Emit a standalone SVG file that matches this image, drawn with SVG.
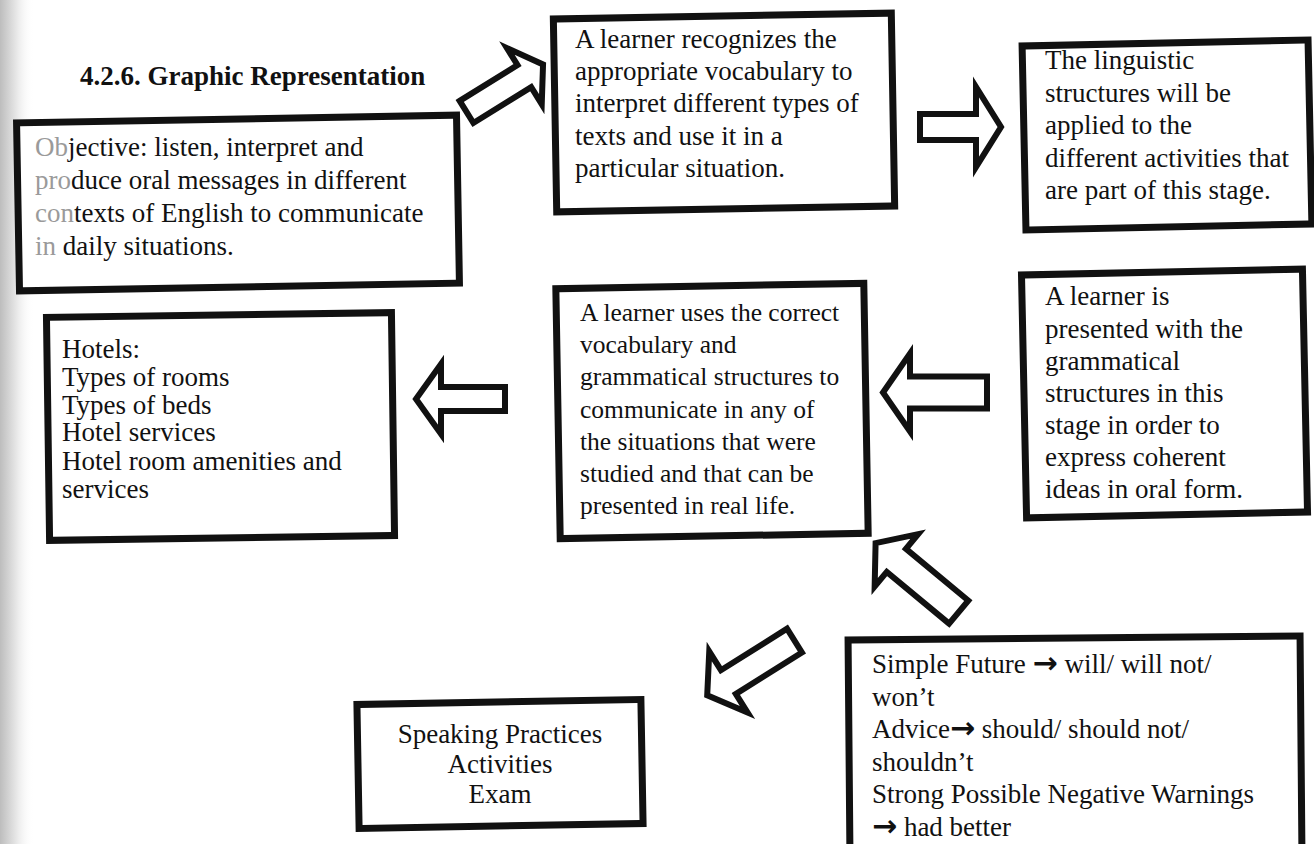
<svg xmlns="http://www.w3.org/2000/svg" width="1314" height="844" viewBox="0 0 1314 844">
  <defs>
    <linearGradient id="shadow" x1="0" y1="0" x2="1" y2="0">
      <stop offset="0" stop-color="#bdbdbd"/>
      <stop offset="0.45" stop-color="#e4e4e4"/>
      <stop offset="1" stop-color="#ffffff" stop-opacity="0"/>
    </linearGradient>
    <style>
      .box { fill: #ffffff; stroke: #111111; stroke-width: 7; }
      .arrow { fill: #ffffff; stroke: #111111; stroke-width: 6; stroke-linejoin: miter; stroke-miterlimit: 10; }
      .t { font-family: "Liberation Serif", "Times New Roman", serif; font-size: 27px; fill: #111111; }
      .tc { font-family: "Liberation Serif", "Times New Roman", serif; font-size: 25.5px; fill: #111111; }
      .title { font-family: "Liberation Serif", "Times New Roman", serif; font-size: 27px; font-weight: bold; fill: #111111; }
      .fade { fill: #9a9a9a; }
      .ar { font-family: "DejaVu Sans", sans-serif; font-size: 30px; font-weight: bold; }
    </style>
  </defs>
  <rect x="0" y="0" width="1314" height="844" fill="#ffffff"/>
  <rect x="0" y="0" width="34" height="844" fill="url(#shadow)"/>

  <text class="title" x="80" y="85">4.2.6. Graphic Representation</text>

  <g id="connectors">
    <polygon class="arrow" transform="translate(464,113.5) rotate(-31.8)" points="3,-13 71,-13 71,-33 93,0 71,33 71,13 3,13"/>
    <polygon class="arrow" transform="translate(917,127)" points="3,-13 59,-13 59,-40 84,0 59,40 59,13 3,13"/>
    <polygon class="arrow" transform="translate(508,399) rotate(180)" points="3,-12 67,-12 67,-35 92,0 67,35 67,12 3,12"/>
    <polygon class="arrow" transform="translate(990,392.5) rotate(180)" points="3,-16 80,-16 80,-39 107,0 80,39 80,16 3,16"/>
    <polygon class="arrow" transform="translate(961,614) rotate(219.7)" points="3,-15 84,-15 84,-34 111,0 84,34 84,15 3,15"/>
    <polygon class="arrow" transform="translate(797,639) rotate(147.9)" points="3,-14 81,-14 81,-36 106,0 81,36 81,14 3,14"/>
  </g>

  <g id="objective">
    <rect class="box" x="18" y="119" width="440" height="168" transform="rotate(-1 238 203)"/>
    <text class="t" x="35" y="156"><tspan class="fade">Ob</tspan>jective: listen, interpret and</text>
    <text class="t" x="35" y="189"><tspan class="fade">pro</tspan>duce oral messages in different</text>
    <text class="t" x="35" y="222"><tspan class="fade">con</tspan>texts of English to communicate</text>
    <text class="t" x="35" y="255"><tspan class="fade">in</tspan> daily situations.</text>
  </g>

  <g id="recognizes">
    <rect class="box" x="555" y="16" width="338" height="193" transform="rotate(-1 724 112)"/>
    <text class="t" x="575" y="48">A learner recognizes the</text>
    <text class="t" x="575" y="80">appropriate vocabulary to</text>
    <text class="t" x="575" y="112">interpret different types of</text>
    <text class="t" x="575" y="145">texts and use it in a</text>
    <text class="t" x="575" y="177">particular situation.</text>
  </g>

  <g id="linguistic">
    <rect class="box" x="1024" y="43" width="286" height="184" transform="rotate(-1.2 1167 135)"/>
    <text class="t" x="1045" y="69">The linguistic</text>
    <text class="t" x="1045" y="102">structures will be</text>
    <text class="t" x="1045" y="134">applied to the</text>
    <text class="t" x="1045" y="167">different activities that</text>
    <text class="t" x="1045" y="199">are part of this stage.</text>
  </g>

  <g id="hotels">
    <rect class="box" x="48" y="315" width="345" height="223" transform="rotate(-0.8 220 426)"/>
    <text class="t" x="62" y="358">Hotels:</text>
    <text class="t" x="62" y="386">Types of rooms</text>
    <text class="t" x="62" y="414">Types of beds</text>
    <text class="t" x="62" y="441">Hotel services</text>
    <text class="t" x="62" y="470">Hotel room amenities and</text>
    <text class="t" x="62" y="498">services</text>
  </g>

  <g id="uses">
    <rect class="box" x="558" y="286" width="308" height="250" transform="rotate(-1 712 411)"/>
    <text class="tc" x="580" y="321">A learner uses the correct</text>
    <text class="tc" x="580" y="353">vocabulary and</text>
    <text class="tc" x="580" y="385">grammatical structures to</text>
    <text class="tc" x="580" y="418">communicate in any of</text>
    <text class="tc" x="580" y="450">the situations that were</text>
    <text class="tc" x="580" y="482">studied and that can be</text>
    <text class="tc" x="580" y="514">presented in real life.</text>
  </g>

  <g id="presented">
    <rect class="box" x="1024" y="272" width="281" height="243" transform="rotate(-1.2 1164 393)"/>
    <text class="t" x="1045" y="305">A learner is</text>
    <text class="t" x="1045" y="338">presented with the</text>
    <text class="t" x="1045" y="370">grammatical</text>
    <text class="t" x="1045" y="402">structures in this</text>
    <text class="t" x="1045" y="434">stage in order to</text>
    <text class="t" x="1045" y="466">express coherent</text>
    <text class="t" x="1045" y="498">ideas in oral form.</text>
  </g>

  <g id="speaking">
    <rect class="box" x="358" y="702" width="284" height="124" transform="rotate(-1 500 764)"/>
    <text class="t" x="500" y="743" text-anchor="middle">Speaking Practices</text>
    <text class="t" x="500" y="773" text-anchor="middle">Activities</text>
    <text class="t" x="500" y="803" text-anchor="middle">Exam</text>
  </g>

  <g id="grammar">
    <rect class="box" x="849" y="638" width="452" height="215" transform="rotate(-0.5 1075 745)"/>
    <text class="t" x="872" y="673">Simple Future <tspan class="ar">→</tspan> will/ will not/</text>
    <text class="t" x="872" y="706">won’t</text>
    <text class="t" x="872" y="738">Advice<tspan class="ar">→</tspan> should/ should not/</text>
    <text class="t" x="872" y="771">shouldn’t</text>
    <text class="t" x="872" y="803">Strong Possible Negative Warnings</text>
    <text class="t" x="872" y="836"><tspan class="ar">→</tspan> had better</text>
  </g>
</svg>
